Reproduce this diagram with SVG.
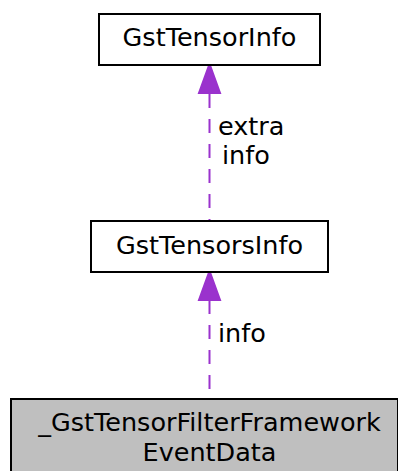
<svg xmlns="http://www.w3.org/2000/svg" width="398" height="471" viewBox="0 0 398 471">
<style>
text{font-family:"DejaVu Sans",sans-serif;font-size:25.5px;fill:#000}
.box{fill:#fff;stroke:#000;stroke-width:2}
.cur{fill:#bfbfbf;stroke:#000;stroke-width:2}
.edge{stroke:#9a32cd;stroke-width:2;stroke-dasharray:14,11;fill:none}
.head{fill:#9a32cd;stroke:#9a32cd;stroke-width:2}
</style>
<rect width="398" height="471" fill="#fff"/>
<g id="edges">
<path class="edge" d="M209.5,94 V221"/>
<polygon class="head" points="209.5,64 199,93 220,93"/>
<text x="218" y="135">extra</text>
<text x="222" y="164">info</text>
<path class="edge" d="M209.5,300 V399"/>
<polygon class="head" points="209.5,271 199,300 220,300"/>
<text x="218" y="342">info</text>
</g>
<g id="node_tensorinfo">
<rect class="box" x="99" y="14" width="221" height="51"/>
<text x="209.5" y="46" text-anchor="middle">GstTensorInfo</text>
</g>
<g id="node_tensorsinfo">
<rect class="box" x="91" y="221" width="237" height="51"/>
<text x="209.5" y="254" text-anchor="middle">GstTensorsInfo</text>
</g>
<g id="node_eventdata">
<rect class="cur" x="11" y="399" width="387" height="73"/>
<text x="209.5" y="431" text-anchor="middle">_GstTensorFilterFramework</text>
<text x="209.5" y="461" text-anchor="middle">EventData</text>
</g>
</svg>
